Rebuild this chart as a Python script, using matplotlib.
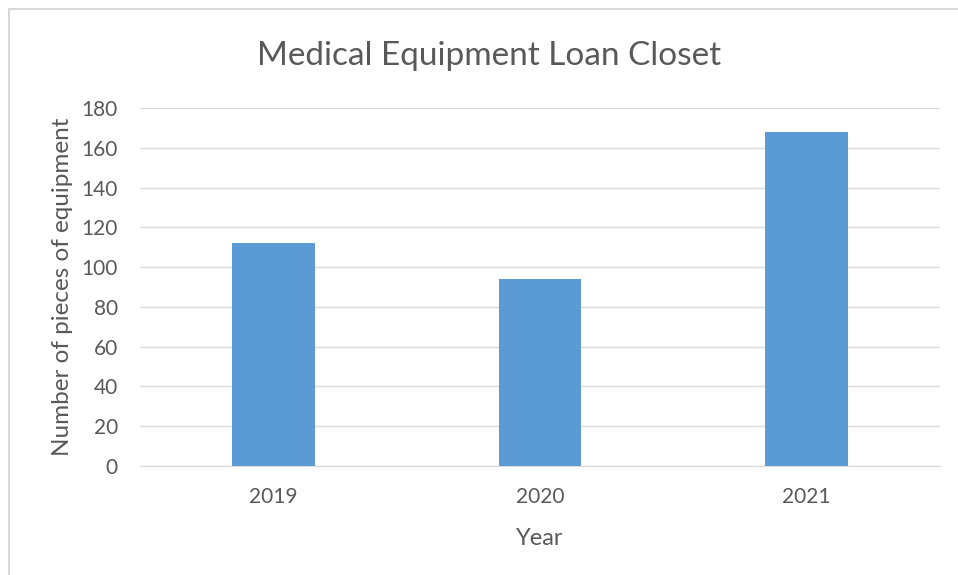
import matplotlib.pyplot as plt
from matplotlib.lines import Line2D

years = ['2019', '2020', '2021']
pieces = [112, 94, 168]

plt.rcParams['font.family'] = ['Lato', 'DejaVu Sans']
text_color = '#595959'

fig = plt.figure(figsize=(9.58, 5.75), dpi=100)
ax = fig.add_axes([140/958, 1-466/575, 800/958, 358/575])

ax.bar(years, pieces, width=0.31, color='#5b9bd5', zorder=3)
ax.set_ylim(0, 180)
ax.set_yticks(range(0, 181, 20))
ax.set_xlim(-0.5, 2.5)
ax.yaxis.grid(True, color='#d9d9d9', linewidth=1, zorder=0)
for s in ['top', 'right', 'left']:
    ax.spines[s].set_visible(False)
ax.spines['bottom'].set_color('#d9d9d9')
ax.tick_params(axis='both', length=0, labelsize=15, labelcolor=text_color)
ax.tick_params(axis='y', pad=16)
ax.tick_params(axis='x', pad=15)

ax.set_xlabel('Year', fontsize=17, color=text_color)
ax.set_ylabel('Number of pieces of equipment', fontsize=17.5, color=text_color)
ax.xaxis.set_label_coords(0.5, -62/358)
ax.yaxis.set_label_coords(-67/800, 0.5)
fig.text(489/958, 1-56/575, 'Medical Equipment Loan Closet', fontsize=24,
         color=text_color, ha='center', va='center')

# chart frame (only left and top edges visible in the crop)
fig.add_artist(Line2D([8.5/958, 8.5/958], [0, 1-8.5/575], color='#d9d9d9', lw=1.5))
fig.add_artist(Line2D([8.5/958, 1], [1-8.5/575, 1-8.5/575], color='#d9d9d9', lw=1.5))

fig.savefig('out.png', dpi=100)
